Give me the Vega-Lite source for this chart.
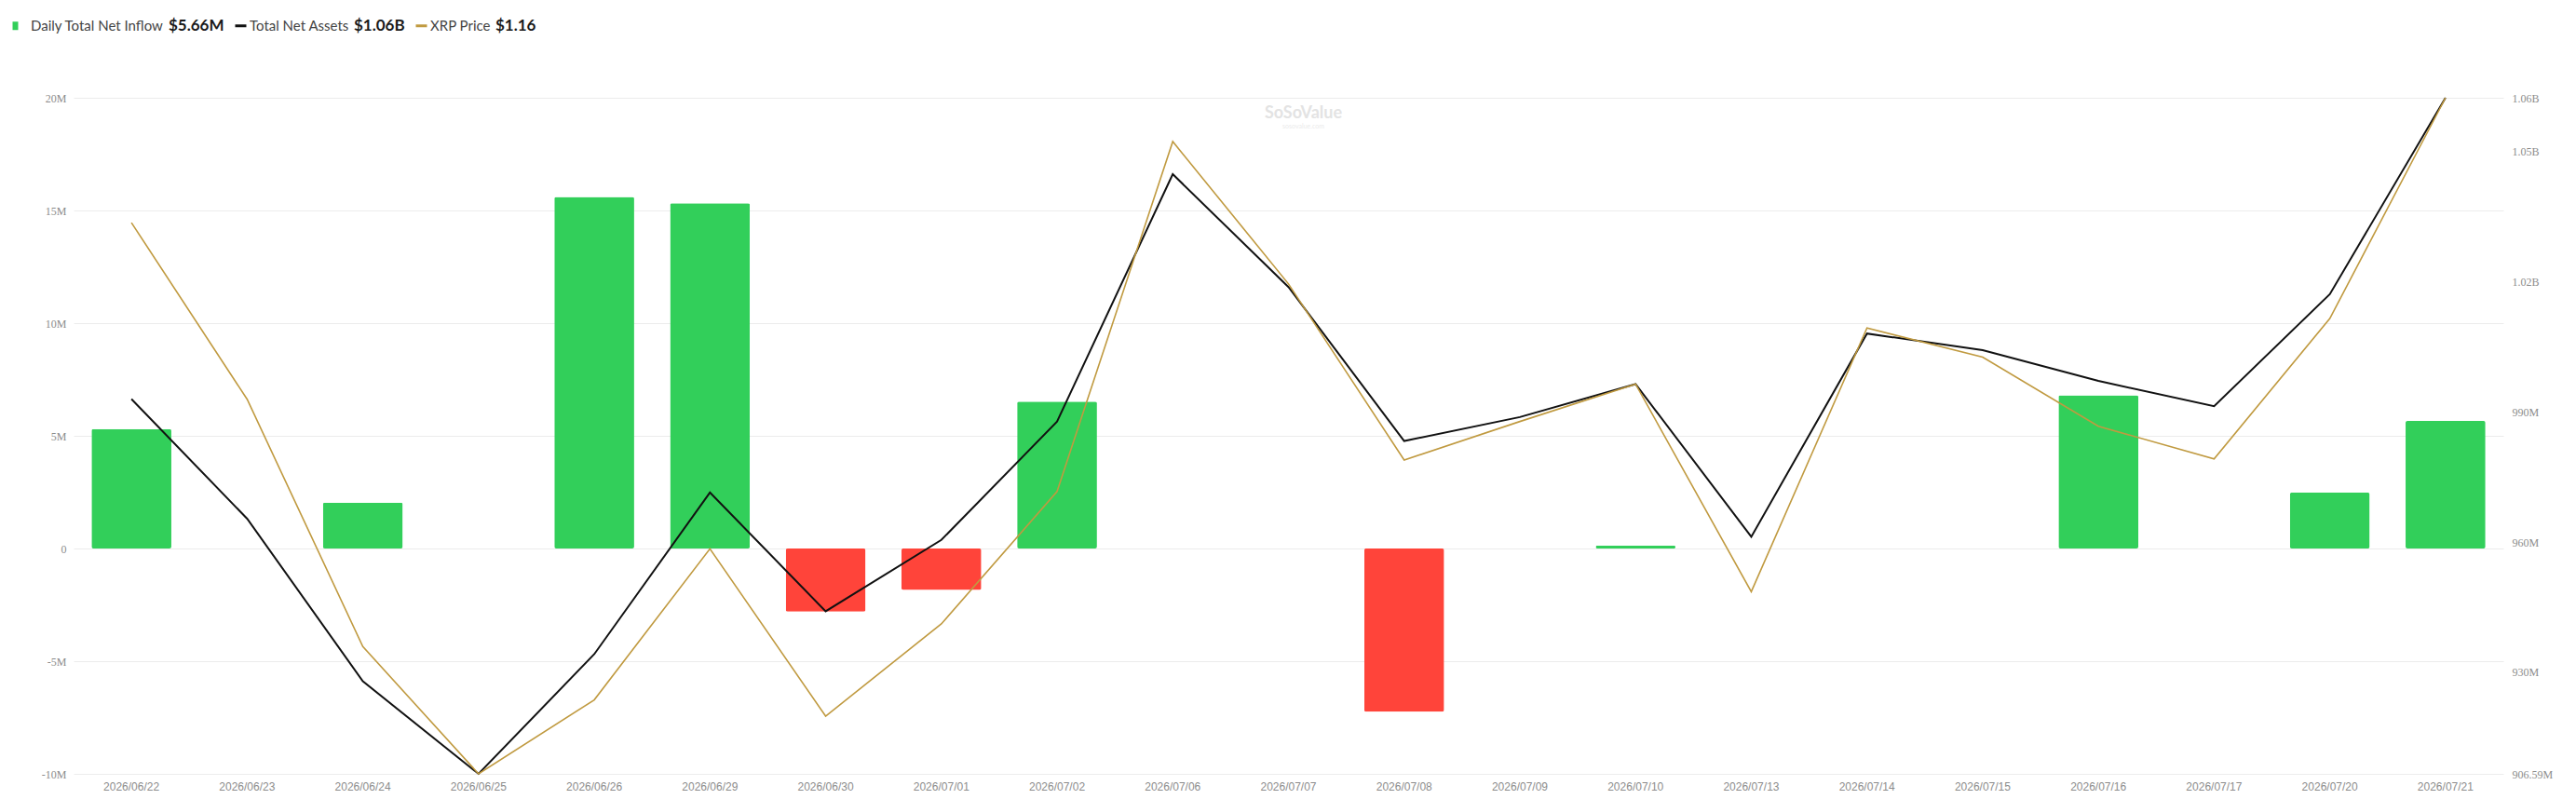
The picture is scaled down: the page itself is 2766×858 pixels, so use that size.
{
  "$schema": "https://vega.github.io/schema/vega-lite/v6.json",
  "width": 2609,
  "height": 726,
  "autosize": {"type": "none"},
  "padding": {"left": 79, "top": 105, "right": 78, "bottom": 27},
  "background": "#ffffff",
  "config": {
    "view": {"stroke": null},
    "font": "Lato",
    "axisX": {"labelAngle": 0, "ticks": false, "domain": false, "grid": false, "labelFont": "Liberation Sans", "labelFontSize": 12, "labelColor": "#8c8c8c", "labelPadding": 8},
    "axisY": {"ticks": false, "domain": false, "labelFont": "Liberation Serif", "labelFontSize": 12, "labelColor": "#8c8c8c", "labelFlush": false, "labelOverlap": false}
  },
  "title": {"text": "SoSoValue", "subtitle": "sosovalue.com", "anchor": "middle", "orient": "top", "offset": -119, "fontSize": 18, "fontWeight": "bold", "font": "Lato", "color": "#e3e3e3", "subtitleColor": "#ebebeb", "subtitleFontSize": 7, "subtitleFont": "Lato", "subtitlePadding": 1, "dx": 16},
  "datasets": {
    "flows": [
      {"date": "2026/06/22", "inflow": 5300000, "assets": 992970000, "price": 1.1286},
      {"date": "2026/06/23", "inflow": 0, "assets": 965390000, "price": 1.0842},
      {"date": "2026/06/24", "inflow": 2040000, "assets": 927920000, "price": 1.0220},
      {"date": "2026/06/25", "inflow": 0, "assets": 906590000, "price": 0.9900},
      {"date": "2026/06/26", "inflow": 15600000, "assets": 934170000, "price": 1.0086},
      {"date": "2026/06/29", "inflow": 15320000, "assets": 971430000, "price": 1.0466},
      {"date": "2026/06/30", "inflow": -2800000, "assets": 944060000, "price": 1.0045},
      {"date": "2026/07/01", "inflow": -1840000, "assets": 960500000, "price": 1.0277},
      {"date": "2026/07/02", "inflow": 6520000, "assets": 987760000, "price": 1.0610},
      {"date": "2026/07/06", "inflow": 0, "assets": 1044780000, "price": 1.1490},
      {"date": "2026/07/07", "inflow": 0, "assets": 1018770000, "price": 1.1132},
      {"date": "2026/07/08", "inflow": -7240000, "assets": 983290000, "price": 1.0689},
      {"date": "2026/07/09", "inflow": 0, "assets": 988810000, "price": 1.0786},
      {"date": "2026/07/10", "inflow": 120000, "assets": 996410000, "price": 1.0880},
      {"date": "2026/07/13", "inflow": 0, "assets": 961230000, "price": 1.0358},
      {"date": "2026/07/14", "inflow": 0, "assets": 1008060000, "price": 1.1021},
      {"date": "2026/07/15", "inflow": 0, "assets": 1004220000, "price": 1.0948},
      {"date": "2026/07/16", "inflow": 6800000, "assets": 997140000, "price": 1.0774},
      {"date": "2026/07/17", "inflow": 0, "assets": 991310000, "price": 1.0692},
      {"date": "2026/07/20", "inflow": 2480000, "assets": 1017110000, "price": 1.1045},
      {"date": "2026/07/21", "inflow": 5660000, "assets": 1062390000, "price": 1.1600}
    ],
    "legendItems": [
      {"item": "Daily Total Net Inflow"},
      {"item": "$5.66M"},
      {"item": "Total Net Assets"},
      {"item": "$1.06B"},
      {"item": "XRP Price"},
      {"item": "$1.16"}
    ]
  },
  "data": {"name": "flows"},
  "layer": [
    {
      "mark": {"type": "bar", "cornerRadius": 2},
      "encoding": {
        "x": {"field": "date", "type": "ordinal", "sort": null, "title": null, "scale": {"paddingInner": 0.31, "paddingOuter": 0.155}},
        "y": {
          "field": "inflow", "type": "quantitative", "title": null,
          "scale": {"domain": [-10000000, 20000000], "nice": false},
          "axis": {"values": [-10000000, -5000000, 0, 5000000, 10000000, 15000000, 20000000], "labelExpr": "datum.value == 0 ? '0' : (datum.value < 0 ? '-' : '') + format(abs(datum.value) / 1000000, 'd') + 'M'", "grid": true, "gridColor": "#ececec", "gridWidth": 1, "labelPadding": 8}
        },
        "color": {"condition": {"test": "datum.inflow < 0", "value": "#FF443A"}, "value": "#32CF5A"}
      }
    },
    {
      "mark": {"type": "line", "color": "#111111", "strokeWidth": 2},
      "encoding": {
        "x": {"field": "date", "type": "ordinal", "sort": null, "title": null},
        "y": {
          "field": "assets", "type": "quantitative", "title": null,
          "scale": {"domain": [906590000, 1062390000], "nice": false, "zero": false},
          "axis": {"orient": "right", "grid": false, "values": [906590000, 930000000, 960000000, 990000000, 1020000000, 1050000000, 1062390000], "labelExpr": "datum.value >= 1000000000 ? format(datum.value / 1000000000, '.2f') + 'B' : format(datum.value / 1000000, '.2~f') + 'M'", "labelPadding": 9}
        }
      }
    },
    {
      "mark": {"type": "line", "color": "#C09A40", "strokeWidth": 1.6},
      "encoding": {
        "x": {"field": "date", "type": "ordinal", "sort": null, "title": null},
        "y": {"field": "price", "type": "quantitative", "title": null, "scale": {"domain": [0.99, 1.16], "nice": false, "zero": false}, "axis": null}
      }
    },
    {
      "data": {"name": "legendItems"},
      "mark": {"type": "point", "filled": true, "opacity": 0},
      "encoding": {
        "color": {
          "field": "item", "type": "nominal",
          "scale": {"domain": ["Daily Total Net Inflow", "$5.66M", "Total Net Assets", "$1.06B", "XRP Price", "$1.16"], "range": ["#32CF5A", "#ffffff", "#111111", "#ffffff", "#C09A40", "#ffffff"]},
          "legend": {
            "title": null,
            "orient": "none",
            "legendX": -70,
            "legendY": -85,
            "direction": "horizontal",
            "columns": 6,
            "columnPadding": 5,
            "symbolSize": 144,
            "symbolStrokeWidth": 0,
            "symbolType": {"expr": "datum.value == 'Daily Total Net Inflow' ? 'M-0.5,-0.75H0.5V0.75H-0.5Z' : 'M-1,-0.25H1V0.25H-1Z'"},
            "symbolOpacity": {"expr": "substring(datum.value, 0, 1) == '$' ? 0 : 1"},
            "symbolOffset": {"expr": "datum.value == 'Total Net Assets' || datum.value == 'XRP Price' ? 5 : 0"},
            "labelFont": "Lato",
            "labelFontSize": {"expr": "substring(datum.value, 0, 1) == '$' ? 17 : 15"},
            "labelFontWeight": {"expr": "substring(datum.value, 0, 1) == '$' ? 'bold' : 'normal'"},
            "labelColor": {"expr": "substring(datum.value, 0, 1) == '$' ? '#1a1a1a' : '#444444'"},
            "labelOffset": {"expr": "substring(datum.value, 0, 1) == '$' ? -16 : (datum.value == 'Daily Total Net Inflow' ? 9 : 2)"},
            "labelLimit": 400
          }
        }
      }
    }
  ],
  "resolve": {"scale": {"y": "independent"}}
}
